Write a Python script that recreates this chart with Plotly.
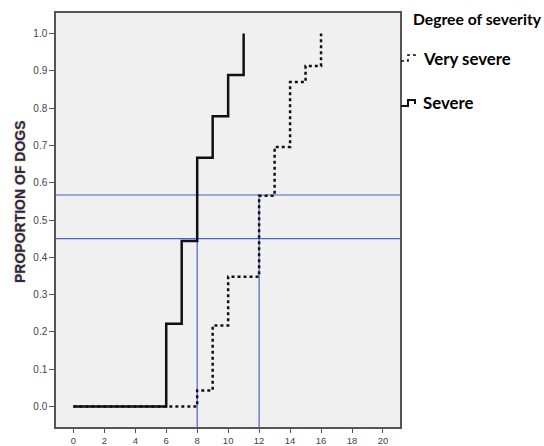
import plotly.graph_objects as go

# Data (cumulative proportion of dogs by time)
severe_x = [0, 6, 7, 8, 9, 10, 11]
severe_y = [0.0, 0.222, 0.444, 0.667, 0.778, 0.889, 1.0]
very_x = [0, 8, 9, 10, 12, 13, 14, 15, 16]
very_y = [0.0, 0.043, 0.217, 0.348, 0.565, 0.696, 0.870, 0.913, 1.0]

# Reference lines: (x, y) pairs
ref_x = [8, 12]
ref_y = [0.45, 0.567]

x_ticks = list(range(0, 21, 2))
y_ticks = [i / 10 for i in range(0, 11)]

series_names = ["Very severe", "Severe"]
legend_title = "Degree of severity"

W, H = 544, 446
ML, MR, MT, MB = 56, 144, 13, 19
PW, PH = W - ML - MR, H - MT - MB


def px(xp):
    return (xp - ML) / PW


def py(yp):
    return (H - MB - yp) / PH


BLUE = "#4d5fd6"

fig = go.Figure()

# reference lines
for xv, yv in zip(ref_x, ref_y):
    fig.add_shape(type="line", xref="paper", yref="y", x0=0, x1=1, y0=yv, y1=yv,
                  line=dict(color=BLUE, width=1.2), layer="below")
    fig.add_shape(type="line", xref="x", yref="y", x0=xv, x1=xv, y0=-0.06, y1=yv,
                  line=dict(color=BLUE, width=1.2), layer="below")

fig.add_trace(go.Scatter(x=very_x, y=very_y, mode="lines", line_shape="hv",
                         name=series_names[0], showlegend=False,
                         line=dict(color="#111111", width=2.5, dash="dot")))
fig.add_trace(go.Scatter(x=severe_x, y=severe_y, mode="lines", line_shape="hv",
                         name=series_names[1], showlegend=False,
                         line=dict(color="#111111", width=2.5)))

# custom legend (title, glyphs, labels)
LEG_FONT = dict(family="Lato", color="black", weight="bold")
fig.add_annotation(x=px(411), y=py(19), xref="paper", yref="paper", xanchor="left",
                   yanchor="middle", text=legend_title, showarrow=False,
                   font=dict(size=15.7, **LEG_FONT))
for name, yc, dash in [(series_names[0], 58, "dot"), (series_names[1], 103, "solid")]:
    fig.add_annotation(x=px(421), y=py(yc), xref="paper", yref="paper", xanchor="left",
                       yanchor="middle", text=name, showarrow=False,
                       font=dict(size=16.8, **LEG_FONT))
    path = (f"M {px(401)},{py(yc + 3)} L {px(408)},{py(yc + 3)} L {px(408)},{py(yc - 3)} "
            f"L {px(415)},{py(yc - 3)} L {px(415)},{py(yc + 1)}")
    fig.add_shape(type="path", xref="paper", yref="paper", path=path,
                  line=dict(color="#111111", width=2 if dash == "solid" else 1.6, dash=dash))

# y-axis title
fig.add_annotation(x=px(20), y=py(202), xref="paper", yref="paper", textangle=-90,
                   xanchor="center", yanchor="middle",
                   text="PROPORTION OF DOGS", showarrow=False,
                   font=dict(family="Liberation Sans", size=14, color="#1a2a5e",
                             weight="bold", shadow="0px 0px 2px #f0a040"))

fig.update_layout(
    width=W, height=H,
    margin=dict(l=ML, r=MR, t=MT, b=MB, autoexpand=False),
    paper_bgcolor="white", plot_bgcolor="#f0f0f0",
    showlegend=False,
    font=dict(family="Liberation Sans"),
)

fig.update_xaxes(range=[-1.12, 21.1], tickvals=x_ticks, showgrid=False, zeroline=False,
                 showline=True, linecolor="#555555", linewidth=1.5, mirror=True,
                 ticks="outside", ticklen=4, tickcolor="#555555",
                 tickfont=dict(size=9.5, color="#444444"))
fig.update_yaxes(range=[-0.055, 1.055], tickvals=y_ticks, tickformat=".1f",
                 showgrid=False, zeroline=False,
                 showline=True, linecolor="#555555", linewidth=1.5, mirror=True,
                 ticks="outside", ticklen=5, tickcolor="#555555",
                 tickfont=dict(size=10, color="#444444"))

fig.write_html("out.html", config={"displayModeBar": False},
               post_script="document.body.style.margin='0';document.body.style.overflow='hidden';")
